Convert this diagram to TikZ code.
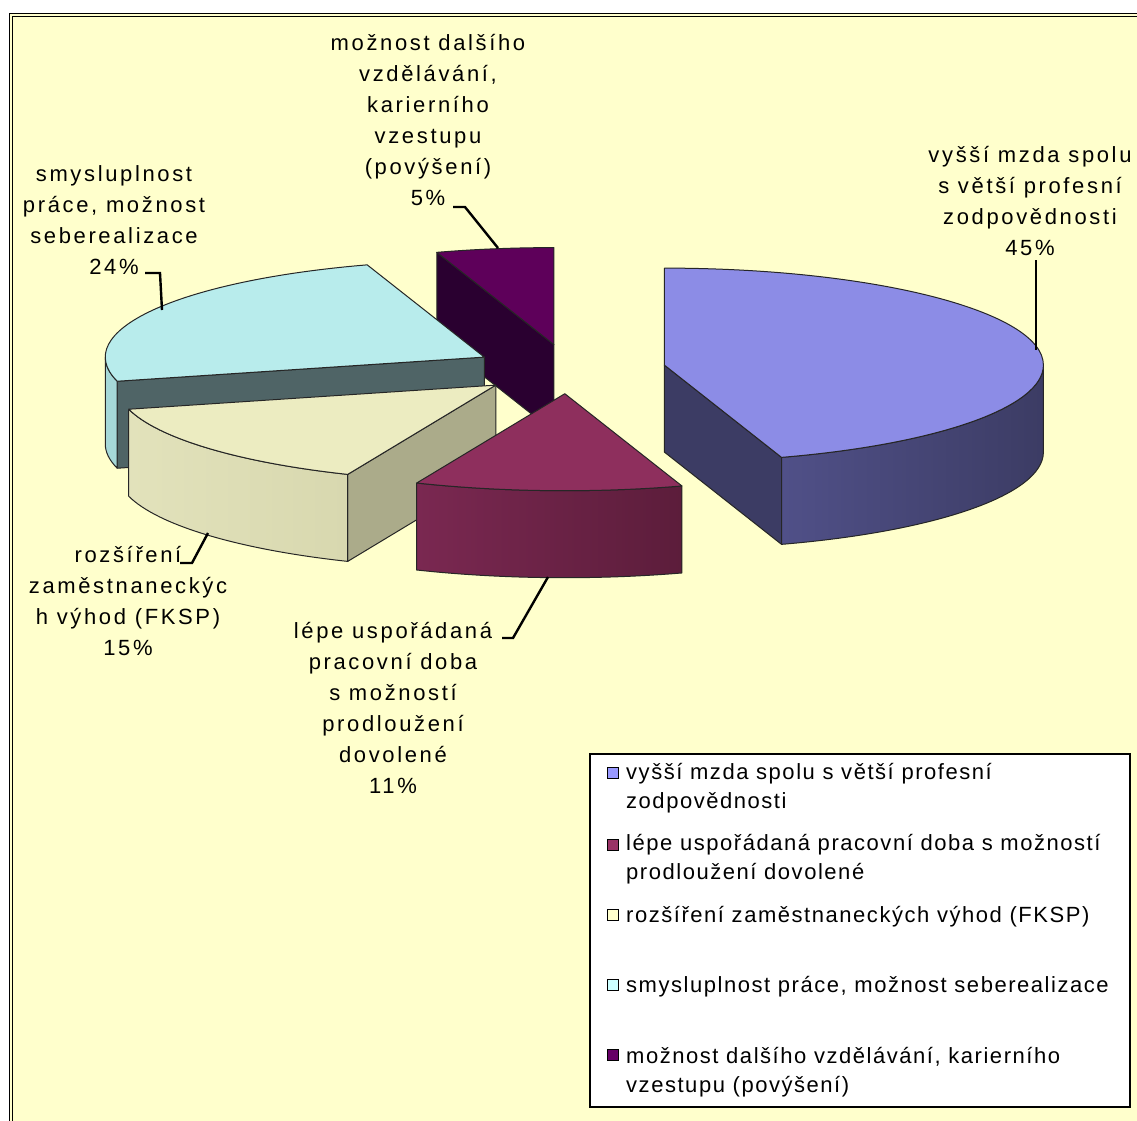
\documentclass[tikz,border=0pt]{standalone}
\usepackage{fontspec}
\setmainfont{Liberation Sans}
\newfontfamily\lblfont[LetterSpace=12]{Liberation Sans}
\newfontfamily\legfont[LetterSpace=7]{Liberation Sans}
\usetikzlibrary{calc}
\definecolor{bgyellow}{HTML}{FFFFCC}
\definecolor{blueTop}{HTML}{8C8CE6}
\definecolor{blueDark}{HTML}{3C3C64}
\definecolor{blueSideL}{HTML}{505088}
\definecolor{blueSideR}{HTML}{3C3C64}
\definecolor{marTop}{HTML}{8E2F5D}
\definecolor{marSideL}{HTML}{7A2851}
\definecolor{marSideR}{HTML}{5C1D3B}
\definecolor{creTop}{HTML}{ECECC1}
\definecolor{creRad}{HTML}{ABAB8A}
\definecolor{creSideL}{HTML}{E2E2BB}
\definecolor{creSideM}{HTML}{ECECC4}
\definecolor{creSideR}{HTML}{D8D8AF}
\definecolor{cyaTop}{HTML}{B8ECEC}
\definecolor{cyaRad}{HTML}{4F6466}
\definecolor{cyaSide}{HTML}{A6D8D8}
\definecolor{purTop}{HTML}{5E005A}
\definecolor{purRad}{HTML}{2A0030}
\definecolor{legBlue}{HTML}{9999FF}
\definecolor{legMar}{HTML}{993366}
\definecolor{legCre}{HTML}{FFFFCC}
\definecolor{legCya}{HTML}{CCFFFF}
\definecolor{legPur}{HTML}{660066}
\tikzset{
  face/.style={draw=black!85, line width=1pt, line join=round},
  leader/.style={draw=black, line width=2.4pt},
  lbl/.style={font=\lblfont\fontsize{22}{31}\selectfont, align=center, inner sep=0pt, anchor=base},
  legtxt/.style={font=\legfont\fontsize{22}{29}\selectfont, align=left, inner sep=0pt, anchor=base west},
  legsq/.style={draw=black, line width=1.8pt, minimum size=11pt, inner sep=0pt},
  frameline/.style={draw=black, line width=1.3pt},
  ell/.style={x radius=379pt, y radius=97pt}
}
\begin{document}
\begin{tikzpicture}[x=1pt,y=1pt]
\useasboundingbox (0,0) rectangle (1137,-1120);
\clip (0,0) rectangle (1137,-1120);
\fill[white] (0,0) rectangle (1137,-1120);
\fill[bgyellow] (9.5,-13.5) rectangle (1150,-1130);
\draw[frameline] (9.5,-1130) -- (9.5,-13.5) -- (1150,-13.5);
\draw[frameline] (12.5,-1130) -- (12.5,-16.5) -- (1150,-16.5);

% slice centres
\coordinate (Bc) at (664.4,-365.1);
\coordinate (Mc) at (564.8,-393.7);
\coordinate (Cr) at (495.8,-385.1);
\coordinate (Cy) at (484.3,-357.1);
\coordinate (Pu) at (553.9,-344.6);

% purple slice
\path[face, fill=purRad] (Pu) -- ($(Pu)+(108:379pt and 97pt)$) -- ++(0,-87) -- ($(Pu)+(0,-87)$) -- cycle;
\path[face, fill=purTop] (Pu) -- ($(Pu)+(108:379pt and 97pt)$) arc[start angle=108, end angle=90, ell] -- cycle;

% cyan slice
\path[face, fill=cyaRad] (Cy) -- ($(Cy)+(-165.6:379pt and 97pt)$) -- ++(0,-87) -- ($(Cy)+(0,-87)$) -- cycle;
\path[face, fill=cyaSide] ($(Cy)+(-180:379pt and 97pt)$) arc[start angle=-180, end angle=-165.6, ell] -- ++(0,-87) arc[start angle=-165.6, end angle=-180, ell] -- cycle;
\path[face, fill=cyaTop] (Cy) -- ($(Cy)+(-165.6:379pt and 97pt)$) arc[start angle=-165.6, end angle=-252, ell] -- cycle;

% cream slice
\path[face, fill=creRad] (Cr) -- ($(Cr)+(-113:379pt and 97pt)$) -- ++(0,-87) -- ($(Cr)+(0,-87)$) -- cycle;
\path[face, left color=creSideL, middle color=creSideM, right color=creSideR] ($(Cr)+(-113:379pt and 97pt)$) arc[start angle=-113, end angle=-165.6, ell] -- ++(0,-87) arc[start angle=-165.6, end angle=-113, ell] -- cycle;
\path[face, fill=creTop] (Cr) -- ($(Cr)+(-113:379pt and 97pt)$) arc[start angle=-113, end angle=-165.6, ell] -- cycle;

% blue slice
\path[face, fill=blueDark] (Bc) -- ($(Bc)+(-72:379pt and 97pt)$) -- ++(0,-87) -- ($(Bc)+(0,-87)$) -- cycle;
\path[face, left color=blueSideL, right color=blueSideR] ($(Bc)+(0:379pt and 97pt)$) arc[start angle=0, end angle=-72, ell] -- ++(0,-87) arc[start angle=-72, end angle=0, ell] -- cycle;
\path[face, fill=blueTop] (Bc) -- ($(Bc)+(90:379pt and 97pt)$) arc[start angle=90, end angle=-72, ell] -- cycle;

% maroon slice
\path[face, left color=marSideL, right color=marSideR] ($(Mc)+(-72:379pt and 97pt)$) arc[start angle=-72, end angle=-113, ell] -- ++(0,-87) arc[start angle=-113, end angle=-72, ell] -- cycle;
\path[face, fill=marTop] (Mc) -- ($(Mc)+(-72:379pt and 97pt)$) arc[start angle=-72, end angle=-113, ell] -- cycle;

% labels (anchor at baseline of last line)
\node[lbl] (lblPur) at (428,-205) {možnost dalšího\\vzdělávání,\\karierního\\vzestupu\\(povýšení)\\5\%};
\node[lbl] (lblCya) at (114,-274) {smysluplnost\\práce, možnost\\seberealizace\\24\%};
\node[lbl] (lblBlu) at (1030,-255) {vyšší mzda spolu\\s větší profesní\\zodpovědnosti\\45\%};
\node[lbl] (lblCre) at (128,-655) {rozšíření\\zaměstnaneckýc\\h výhod (FKSP)\\15\%};
\node[lbl] (lblMar) at (393,-793) {lépe uspořádaná\\pracovní doba\\s možností\\prodloužení\\dovolené\\11\%};

% leader lines
\coordinate (pA1) at (453,-207); \coordinate (pA2) at (465,-207); \coordinate (pA3) at (498,-248);
\draw[leader] (pA1) -- (pA2) -- (pA3);
\coordinate (cA1) at (145,-273); \coordinate (cA2) at (160,-273); \coordinate (cA3) at (162,-310);
\draw[leader] (cA1) -- (cA2) -- (cA3);
\coordinate (bA1) at (1036,-260); \coordinate (bA2) at (1036,-350);
\draw[leader] (bA1) -- (bA2);
\coordinate (rA1) at (180,-563); \coordinate (rA2) at (192,-563); \coordinate (rA3) at (208,-533);
\draw[leader] (rA1) -- (rA2) -- (rA3);
\coordinate (mA1) at (502,-638); \coordinate (mA2) at (513,-638); \coordinate (mA3) at (548,-577);
\draw[leader] (mA1) -- (mA2) -- (mA3);

% legend
\node[draw=black, line width=1.8pt, fill=white, minimum width=540pt, minimum height=353pt, inner sep=0pt, anchor=north west] (legend) at (589,-753) {};
\node[legsq, fill=legBlue] (sq1) at (613,-773) {};
\node[legsq, fill=legMar] (sq2) at (613,-845) {};
\node[legsq, fill=legCre] (sq3) at (613,-915) {};
\node[legsq, fill=legCya] (sq4) at (613,-985) {};
\node[legsq, fill=legPur] (sq5) at (613,-1055) {};
\node[legtxt] (lt1) at (626,-808) {vyšší mzda spolu s větší profesní\\zodpovědnosti};
\node[legtxt] (lt2) at (626,-879) {lépe uspořádaná pracovní doba s možností\\prodloužení dovolené};
\node[legtxt] (lt3) at (626,-922) {rozšíření zaměstnaneckých výhod (FKSP)};
\node[legtxt] (lt4) at (626,-992) {smysluplnost práce, možnost seberealizace};
\node[legtxt] (lt5) at (626,-1092) {možnost dalšího vzdělávání, karierního\\vzestupu (povýšení)};
\end{tikzpicture}
\end{document}
